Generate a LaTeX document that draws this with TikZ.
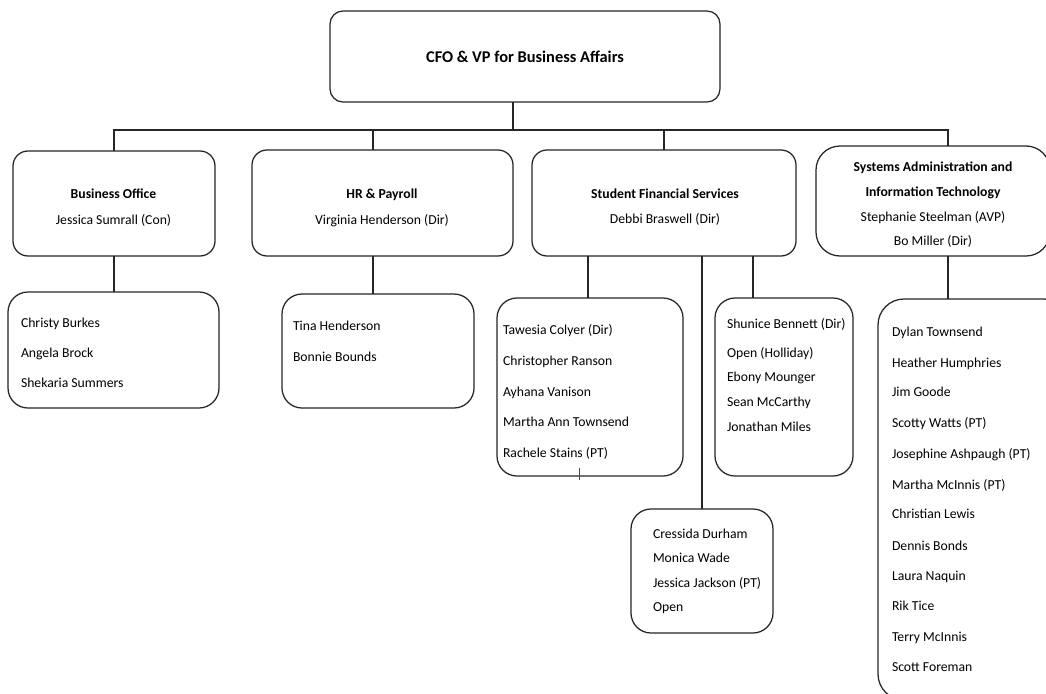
\documentclass[tikz,border=0pt]{standalone}
\usepackage{fontspec}
\setmainfont{Carlito}
\begin{document}
\begin{tikzpicture}[x=1pt,y=-1pt,
  every node/.style={inner sep=0pt, outer sep=0pt},
  box/.style={draw=black!85, line width=1.25pt, rounded corners=#1, minimum width=0, minimum height=0},
  box/.default=16pt,
  conn/.style={draw=black!85, line width=1.2pt},
  lbl/.style={anchor=base west, font=\fontsize{13.7}{16}\selectfont},
  ctr/.style={anchor=base, font=\fontsize{13.7}{16}\selectfont},
  hd/.style={anchor=base, font=\fontsize{13.7}{16}\selectfont\bfseries},
]
\useasboundingbox (0,0) rectangle (1046,693);
\clip (0,0) rectangle (1046,693);
\fill[white] (0,0) rectangle (1046,693);

% top box
\node[box=13pt, minimum width=390pt, minimum height=91pt] (top) at (525,56.5) {};
\node[anchor=base, font=\fontsize{16.4}{19}\selectfont\bfseries] (topt) at (525,62.5) {CFO \& VP for Business Affairs};

% second level boxes
\node[box=15pt, minimum width=202pt, minimum height=105pt] (bo) at (114,203.5) {};
\node[hd] (bot) at (113.5,198.5) {Business Office};
\node[ctr] (bon) at (113.5,224.5) {Jessica Sumrall (Con)};

\node[box=15pt, minimum width=261pt, minimum height=106pt] (hr) at (382.5,203) {};
\node[hd] (hrt) at (382,198.5) {HR \& Payroll};
\node[ctr] (hrn) at (382,224.5) {Virginia Henderson (Dir)};

\node[box=15pt, minimum width=264pt, minimum height=106pt] (sfs) at (664,203) {};
\node[hd] (sfst) at (665,198.5) {Student Financial Services};
\node[ctr] (sfsn) at (665,223.5) {Debbi Braswell (Dir)};

\node[box=24pt, minimum width=234pt, minimum height=110pt] (sa) at (933,201) {};
\node[hd] (sat1) at (933,171.5) {Systems Administration and};
\node[hd] (sat2) at (933,196.5) {Information Technology};
\node[ctr] (san1) at (933,221.5) {Stephanie Steelman (AVP)};
\node[ctr] (san2) at (933,245.5) {Bo Miller (Dir)};

% third level boxes
\node[box=20pt, minimum width=211pt, minimum height=116pt] (bos) at (113.5,350) {};
\node[lbl] (bos1) at (21,327.5) {Christy Burkes};
\node[lbl] (bos2) at (21,357.5) {Angela Brock};
\node[lbl] (bos3) at (21,387.5) {Shekaria Summers};

\node[box=20pt, minimum width=192pt, minimum height=114pt] (hrs) at (378,351) {};
\node[lbl] (hrs1) at (293,330.5) {Tina Henderson};
\node[lbl] (hrs2) at (293,361.5) {Bonnie Bounds};

\node[box=20pt, minimum width=186pt, minimum height=178pt] (sfa) at (590,387) {};
\node[lbl] (sfa1) at (503,334.5) {Tawesia Colyer (Dir)};
\node[lbl] (sfa2) at (503,365.5) {Christopher Ranson};
\node[lbl] (sfa3) at (503,396.5) {Ayhana Vanison};
\node[lbl] (sfa4) at (503,426.5) {Martha Ann Townsend};
\node[lbl] (sfa5) at (503,457.5) {Rachele Stains (PT)};
\coordinate (tk1) at (579,468);
\coordinate (tk2) at (579,480);

\node[box=20pt, minimum width=138pt, minimum height=178pt] (sfb) at (784,387) {};
\node[lbl] (sfb1) at (727,328.5) {Shunice Bennett (Dir)};
\node[lbl] (sfb2) at (727,357.5) {Open (Holliday)};
\node[lbl] (sfb3) at (727,381.5) {Ebony Mounger};
\node[lbl] (sfb4) at (727,406.5) {Sean McCarthy};
\node[lbl] (sfb5) at (727,431.5) {Jonathan Miles};

\node[box=20pt, minimum width=142pt, minimum height=124pt] (sfc) at (702,571) {};
\node[lbl] (sfc1) at (653,538.5) {Cressida Durham};
\node[lbl] (sfc2) at (653,562.5) {Monica Wade};
\node[lbl] (sfc3) at (653,587.5) {Jessica Jackson (PT)};
\node[lbl] (sfc4) at (653,611.5) {Open};

\node[box=26pt, minimum width=192pt, minimum height=401pt] (sas) at (974,499.5) {};
\node[lbl] (sas1) at (892,336.5) {Dylan Townsend};
\node[lbl] (sas2) at (892,367.5) {Heather Humphries};
\node[lbl] (sas3) at (892,396.5) {Jim Goode};
\node[lbl] (sas4) at (892,427.5) {Scotty Watts (PT)};
\node[lbl] (sas5) at (892,458.5) {Josephine Ashpaugh (PT)};
\node[lbl] (sas6) at (892,489.5) {Martha McInnis (PT)};
\node[lbl] (sas7) at (892,518.5) {Christian Lewis};
\node[lbl] (sas8) at (892,550.5) {Dennis Bonds};
\node[lbl] (sas9) at (892,580.5) {Laura Naquin};
\node[lbl] (sas10) at (892,610.5) {Rik Tice};
\node[lbl] (sas11) at (892,641.5) {Terry McInnis};
\node[lbl] (sas12) at (892,671.5) {Scott Foreman};

% connectors
\coordinate (bus) at (513,130);
\draw[conn] ([xshift=-12pt]top.south) -- (bus);
\draw[conn] (bo.north -| 114,0) |- (bus) -| (sa.north -| 948,0);
\draw[conn] (hr.north -| 373,0) -- (373,130);
\draw[conn] (sfs.north) -- (sfs.north |- bus);

\draw[conn] (bo.south) -- (bos.north -| bo.south);
\draw[conn] (hr.south -| 373,0) -- (hrs.north -| 373,0);
\draw[conn] (sfs.south -| 588,0) -- (sfa.north -| 588,0);
\draw[conn] (sfs.south -| 702,0) -- (sfc.north);
\draw[conn] (sfs.south -| 753,0) -- (sfb.north -| 753,0);
\draw[conn] (sa.south -| 948,0) -- (sas.north -| 948,0);
\draw[draw=black!70, line width=0.6pt] (tk1) -- (tk2);
\end{tikzpicture}
\end{document}
